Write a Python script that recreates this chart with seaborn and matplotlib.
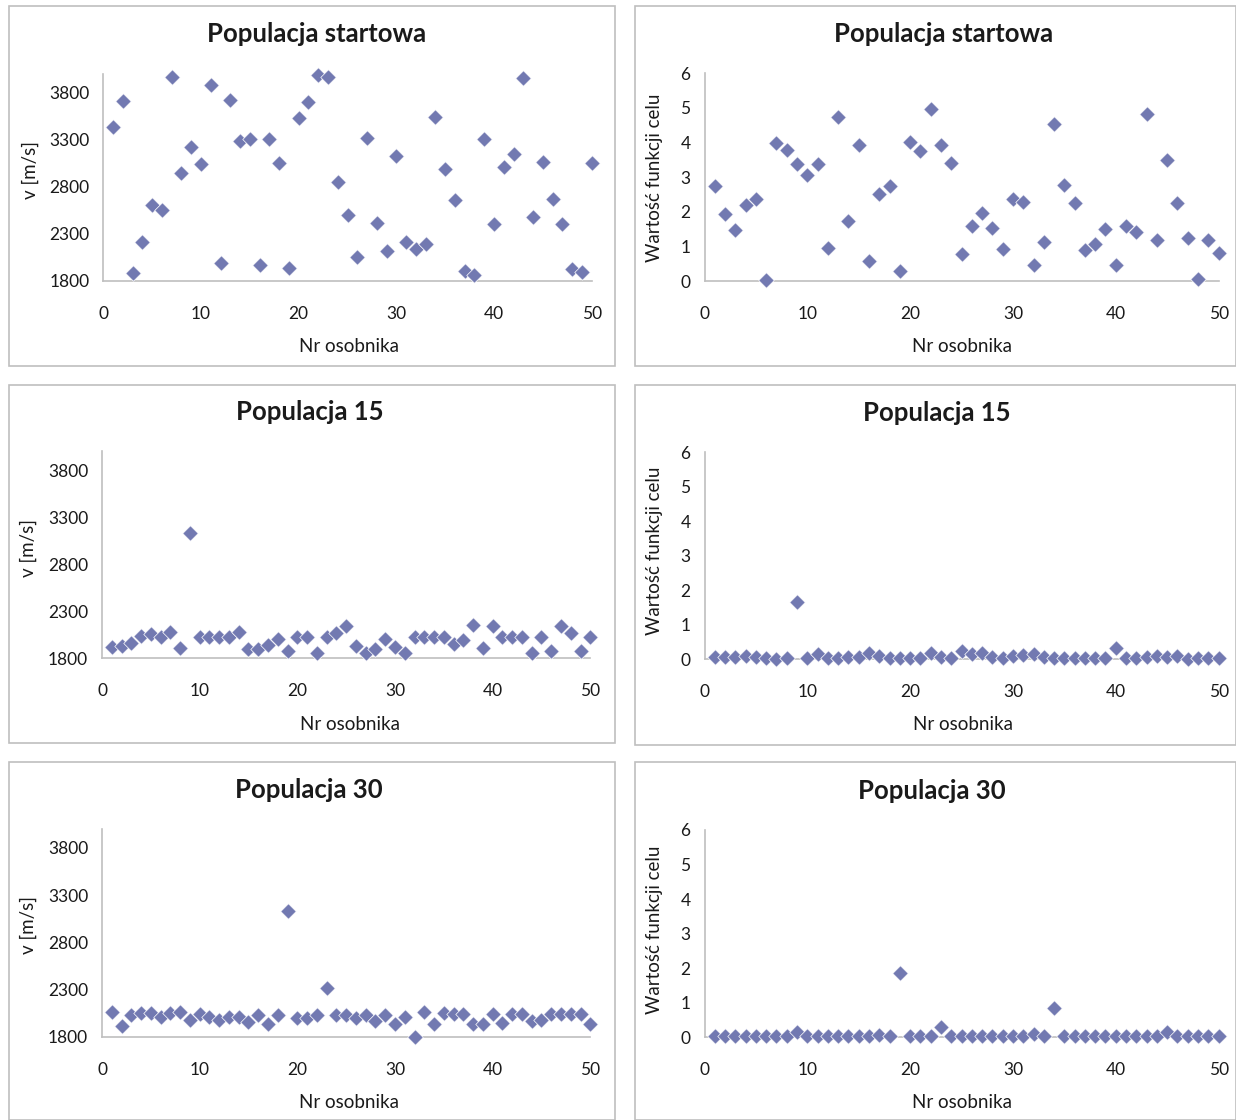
import matplotlib
matplotlib.use("Agg")
import matplotlib.pyplot as plt
from matplotlib.patches import Rectangle
import pandas as pd
import seaborn as sns

# ---- data ---------------------------------------------------------------
osobnik = list(range(1, 51))

v_start = [3435, 3708, 1878, 2211, 2607, 2547, 3970, 2943, 3227, 3039,
           3885, 1991, 3719, 3287, 3308, 1963, 3308, 3050, 1931, 3527,
           3704, 3991, 3966, 2848, 2504, 2048, 3322, 2409, 2112, 3131,
           2214, 2140, 2193, 3545, 2986, 2660, 1906, 1857, 3308, 2398,
           3011, 3145, 3959, 2480, 3067, 2667, 2402, 1920, 1892, 3050]

f_start = [2.74, 1.94, 1.48, 2.20, 2.36, 0.02, 3.97, 3.77, 3.37, 3.06,
           3.37, 0.96, 4.74, 1.73, 3.93, 0.58, 2.50, 2.74, 0.29, 4.00,
           3.76, 4.96, 3.92, 3.39, 0.77, 1.58, 1.95, 1.54, 0.91, 2.36,
           2.28, 0.47, 1.12, 4.52, 2.78, 2.25, 0.88, 1.07, 1.51, 0.47,
           1.59, 1.40, 4.82, 1.18, 3.48, 2.25, 1.24, 0.07, 1.18, 0.81]

v_pop15 = [1924, 1931, 1959, 2041, 2058, 2030, 2076, 1906, 3135, 2030,
           2030, 2030, 2030, 2076, 1903, 1903, 1942, 2002, 1881, 2030,
           2030, 1853, 2030, 2065, 2143, 1935, 1853, 1896, 2005, 1924,
           1853, 2030, 2023, 2030, 2030, 1952, 1995, 2154, 1906, 2143,
           2030, 2030, 2030, 1853, 2030, 1881, 2143, 2073, 1881, 2030]

f_pop15 = [0.06, 0.08, 0.06, 0.10, 0.06, 0.03, 0.00, 0.03, 1.65, 0.03,
           0.15, 0.03, 0.03, 0.08, 0.08, 0.19, 0.10, 0.03, 0.03, 0.03,
           0.03, 0.19, 0.06, 0.03, 0.25, 0.14, 0.17, 0.06, 0.03, 0.10,
           0.13, 0.14, 0.06, 0.03, 0.03, 0.03, 0.03, 0.03, 0.03, 0.32,
           0.03, 0.03, 0.06, 0.10, 0.06, 0.10, 0.00, 0.03, 0.03, 0.03]

v_pop30 = [2065, 1917, 2030, 2047, 2047, 2012, 2047, 2058, 1977, 2037,
           2005, 1977, 2012, 2012, 1959, 2030, 1934, 2030, 3136, 2001,
           2001, 2030, 2319, 2030, 2030, 2001, 2030, 1966, 2030, 1934,
           2005, 1800, 2065, 1934, 2047, 2040, 2037, 1934, 1934, 2037,
           1948, 2037, 2037, 1966, 1977, 2037, 2037, 2037, 2037, 1934]

f_pop30 = [0.04, 0.04, 0.04, 0.04, 0.04, 0.04, 0.04, 0.04, 0.14, 0.04,
           0.04, 0.04, 0.04, 0.04, 0.04, 0.04, 0.08, 0.04, 1.85, 0.04,
           0.04, 0.04, 0.29, 0.04, 0.04, 0.04, 0.04, 0.04, 0.04, 0.04,
           0.04, 0.10, 0.04, 0.84, 0.04, 0.04, 0.04, 0.04, 0.04, 0.04,
           0.04, 0.04, 0.04, 0.04, 0.16, 0.04, 0.04, 0.04, 0.04, 0.04]

titles = ["Populacja startowa", "Populacja 15", "Populacja 30"]
x_label = "Nr osobnika"
v_label = "v [m/s]"
f_label = "Wartość funkcji celu"
x_ticks = [0, 10, 20, 30, 40, 50]
v_ticks = [1800, 2300, 2800, 3300, 3800]
f_ticks = [0, 1, 2, 3, 4, 5, 6]

# ---- style --------------------------------------------------------------
sns.set_style("white")
plt.rcParams["font.family"] = ["Lato", "DejaVu Sans"]

W, H = 1236, 1120
MARKER = "#7279B1"
GRID = "#bfbfbf"
TXT = "#1a1a1a"

fig = plt.figure(figsize=(W / 100, H / 100), dpi=100)


def rect(l, t, r, b):
    return [l / W, 1 - b / H, (r - l) / W, (b - t) / H]


def ftext(x, y, s, **kw):
    fig.text(x / W, 1 - y / H, s, ha="center", va="center", color=TXT, **kw)


# (frame, axes box, title xy, xlabel xy, ylabel xy, values, kind)
panels = [
    ((9, 6, 615, 366), (103.3, 73.9, 591.7, 280.7), (317, 33), (349, 347), (30, 170), v_start, "v", titles[0]),
    ((635, 6, 1236, 366), (704.5, 73.0, 1218.6, 281.0), (944, 33), (962, 347), (655, 178), f_start, "f", titles[0]),
    ((9, 385, 615, 743), (102.0, 451.2, 590.3, 658.3), (310, 411), (350, 724), (28, 548), v_pop15, "v", titles[1]),
    ((635, 385, 1236, 745), (704.5, 452.3, 1218.6, 659.3), (937, 412), (963, 725), (655, 551), f_pop15, "f", titles[1]),
    ((9, 762, 615, 1120), (102.0, 829.1, 590.3, 1036.7), (309, 789), (349, 1102), (28, 925), v_pop30, "v", titles[2]),
    ((635, 762, 1236, 1120), (704.5, 830.0, 1218.6, 1037.3), (932, 790), (962, 1103), (655, 930), f_pop30, "f", titles[2]),
]

for frame, box, tpos, xpos, ypos, values, kind, title in panels:
    fl, ft, fr, fb = frame
    fig.add_artist(Rectangle((fl / W, 1 - fb / H), (fr - fl) / W, (fb - ft) / H,
                             transform=fig.transFigure, fill=False,
                             edgecolor=GRID, linewidth=1.2))
    ax = fig.add_axes(rect(*box))
    df = pd.DataFrame({"nr": osobnik, "val": values})
    sns.scatterplot(data=df, x="nr", y="val", ax=ax, marker="D", s=62,
                    color=MARKER, edgecolor="white", linewidth=0.5,
                    clip_on=False, zorder=3)
    ax.set_xlim(0, 50)
    ax.set_xticks(x_ticks)
    if kind == "v":
        ax.set_ylim(1800, 4000)
        ax.set_yticks(v_ticks)
    else:
        ax.set_ylim(0, 6)
        ax.set_yticks(f_ticks)
    ax.set_xlabel("")
    ax.set_ylabel("")
    for side in ("top", "right"):
        ax.spines[side].set_visible(False)
    for side in ("left", "bottom"):
        ax.spines[side].set_color(GRID)
        ax.spines[side].set_linewidth(1.2)
    ax.tick_params(axis="x", direction="out", length=5, width=1.2, color=GRID,
                   pad=13, labelsize=12.5, labelcolor=TXT)
    ax.tick_params(axis="y", direction="out", length=5, width=1.2, color=GRID,
                   pad=5, labelsize=12.5, labelcolor=TXT)
    ax.patch.set_alpha(0)

    ftext(tpos[0], tpos[1] + 1, title, fontsize=18.5, fontweight="bold")
    ftext(*xpos, x_label, fontsize=13.5)
    ftext(*ypos, v_label if kind == "v" else f_label, fontsize=13.5, rotation=90)

fig.savefig("out.png", dpi=100, facecolor="white")
